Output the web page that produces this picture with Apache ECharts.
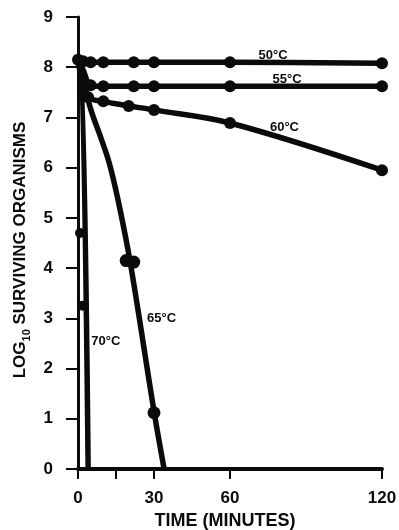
<!DOCTYPE html>
<html>
<head>
<meta charset="utf-8">
<script src="https://cdn.jsdelivr.net/npm/echarts@6/dist/echarts.min.js"></script>
<style>
  html, body { margin: 0; padding: 0; background: #fff; }
  #chart { width: 399px; height: 530px; }
</style>
</head>
<body>
<div id="chart"></div>
<script>
// curve shapes [minutes, log10 survivors]
const curve50 = [[0, 8.15], [5, 8.1], [10, 8.1], [22, 8.1], [30, 8.1], [60, 8.1], [120, 8.08]]
const curve55 = [[0, 8.15], [2, 7.95], [5, 7.64], [10, 7.62], [22, 7.62], [30, 7.62], [60, 7.62], [120, 7.62]]
const curve60 = [[0, 8.15], [1.5, 7.75], [4, 7.4], [10, 7.32], [20, 7.23], [30, 7.15], [60, 6.89], [120, 5.95]]
const curve65 = [[0, 8.15], [2, 7.75], [5.1, 7.15], [9, 6.6], [12.3, 6.1], [15.8, 5.36], [20.6, 4.12], [30.1, 1.12], [34, 0]]
const curve70 = [[0, 8.15], [1.05, 8.2], [4.0, 0]]

// plotted sample points
const points50 = [[0, 8.15], [2, 8.12], [5, 8.1], [10, 8.1], [22, 8.1], [30, 8.1], [60, 8.1], [120, 8.08]]
const points55 = [[5, 7.64], [10, 7.62], [22, 7.62], [30, 7.62], [60, 7.62], [120, 7.62]]
const points60 = [[4, 7.4], [10, 7.32], [20, 7.23], [30, 7.15], [60, 6.89], [120, 5.95]]
const points65 = [[19, 4.15], [22, 4.12], [30, 1.12]]
const points70 = [[0.8, 4.7], [1.8, 3.25]]

// curve labels [minutes, log10, text]
const curveLabels = [
  [77, 8.24, '50°C'],
  [82.5, 7.76, '55°C'],
  [81.5, 6.8, '60°C'],
  [33, 2.99, '65°C'],
  [11, 2.55, '70°C'],
]

const xTicks = [0, 15, 30, 60, 120]
const xTickLabels = [0, 30, 60, 120]

const FONT = "'Liberation Sans', Arial, sans-serif"
const INK = '#0b0b0b'

const chart = echarts.init(document.getElementById('chart'))

function lineSeries(data) {
  return {
    type: 'line',
    data,
    smooth: 0.35,
    showSymbol: false,
    lineStyle: { color: INK, width: 5.5 },
    z: 3,
    animation: false,
  }
}

function dotSeries(data, size = 12) {
  return {
    type: 'scatter',
    data,
    symbol: 'circle',
    symbolSize: size,
    itemStyle: { color: INK, opacity: 1 },
    z: 4,
    animation: false,
  }
}

const option = {
  backgroundColor: '#fff',
  animation: false,
  grid: { left: 78, right: 17, top: 17, bottom: 61, outerBoundsMode: 'none' },
  xAxis: {
    type: 'value',
    min: 0,
    max: 120,
    interval: 15,
    name: 'TIME (MINUTES)',
    nameLocation: 'middle',
    nameGap: 40,
    nameTextStyle: { fontFamily: FONT, fontSize: 18, fontWeight: 'bold', color: INK, padding: [0, 10, 0, 0] },
    axisLine: { show: true, lineStyle: { color: INK, width: 4 } },
    axisTick: { show: true, customValues: xTicks, length: 10, lineStyle: { color: INK, width: 2 } },
    axisLabel: { customValues: xTickLabels, margin: 21, fontFamily: FONT, fontSize: 17, fontWeight: 'bold', color: INK },
    splitLine: { show: false },
  },
  yAxis: {
    type: 'value',
    min: 0,
    max: 9,
    interval: 1,
    name: '{a|LOG}{s|10}{a| SURVIVING ORGANISMS}',
    nameLocation: 'middle',
    nameRotate: 90,
    nameGap: 37,
    nameTextStyle: {
      color: INK,
      padding: [0, 14, 0, 0],
      rich: {
        a: { fontFamily: FONT, fontSize: 17, fontWeight: 'bold', color: INK, lineHeight: 24, verticalAlign: 'middle' },
        s: { fontFamily: FONT, fontSize: 11, fontWeight: 'bold', color: INK, verticalAlign: 'bottom' },
      },
    },
    axisLine: { show: true, lineStyle: { color: INK, width: 3 } },
    axisTick: { show: true, length: 12, lineStyle: { color: INK, width: 2 } },
    axisLabel: { margin: 25, fontFamily: FONT, fontSize: 17, fontWeight: 'bold', color: INK },
    splitLine: { show: false },
  },
  series: [
    lineSeries(curve50),
    lineSeries(curve55),
    lineSeries(curve60),
    lineSeries(curve65),
    lineSeries(curve70),
    dotSeries(points50),
    dotSeries(points55),
    dotSeries(points60),
    dotSeries(points65, 13),
    dotSeries(points70, 10),
    {
      type: 'scatter',
      data: curveLabels,
      symbolSize: 0,
      itemStyle: { opacity: 1 },
      label: {
        show: true,
        position: 'inside',
        formatter: (p) => p.data[2],
        fontFamily: FONT,
        fontSize: 13,
        fontWeight: 'bold',
        color: INK,
        opacity: 1,
      },
      z: 5,
      animation: false,
    },
  ],
}

chart.setOption(option)
</script>
</body>
</html>
